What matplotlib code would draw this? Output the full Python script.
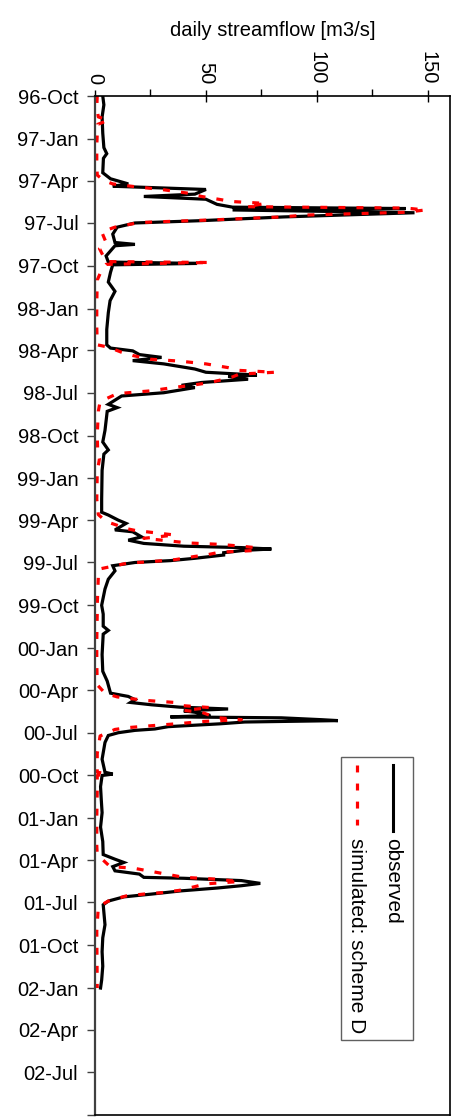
import matplotlib
matplotlib.use("Agg")
import matplotlib.pyplot as plt
import pandas as pd
from matplotlib.patches import Rectangle

plt.rcParams['font.family'] = ['Liberation Sans', 'DejaVu Sans']
plt.rcParams['lines.scale_dashes'] = False

# observed daily streamflow (m3/s)
obs_dates = [
    '1996-10-01', '1996-10-20', '1996-11-15', '1996-12-20', '1997-01-20', '1997-02-02', '1997-02-12',
    '1997-03-15', '1997-03-28', '1997-04-08', '1997-04-13', '1997-04-20', '1997-04-30', '1997-05-05',
    '1997-05-11', '1997-05-22', '1997-05-28', '1997-05-31', '1997-06-03', '1997-06-09', '1997-06-18',
    '1997-06-26', '1997-07-01', '1997-07-10', '1997-07-25', '1997-08-12', '1997-08-16', '1997-08-19',
    '1997-09-10', '1997-09-23', '1997-09-26', '1997-09-29', '1997-10-15', '1997-11-05',
    '1997-11-25', '1997-12-15', '1998-01-10', '1998-02-15', '1998-03-20', '1998-03-27', '1998-04-02',
    '1998-04-10', '1998-04-16', '1998-04-23', '1998-04-30', '1998-05-11', '1998-05-18', '1998-05-24',
    '1998-05-27', '1998-06-02', '1998-06-09', '1998-06-15', '1998-06-20', '1998-07-01', '1998-07-08',
    '1998-07-26', '1998-08-02', '1998-08-10', '1998-09-20',
    '1998-10-15', '1998-11-01', '1998-11-10', '1998-12-15', '1999-02-15', '1999-03-15', '1999-03-21',
    '1999-04-01', '1999-04-08', '1999-04-22', '1999-04-26', '1999-05-07', '1999-05-14', '1999-05-21',
    '1999-05-27', '1999-05-30', '1999-06-02', '1999-06-05', '1999-06-10', '1999-06-15', '1999-06-22',
    '1999-06-27', '1999-07-01', '1999-07-08', '1999-07-19', '1999-08-06', '1999-08-27', '1999-10-01',
    '1999-10-20', '1999-11-15', '1999-11-24', '1999-12-02', '2000-01-15', '2000-02-20', '2000-03-12',
    '2000-04-07', '2000-04-14', '2000-04-21', '2000-04-27', '2000-05-02', '2000-05-07', '2000-05-11',
    '2000-05-15', '2000-05-18', '2000-05-25', '2000-05-28', '2000-05-30', '2000-06-03', '2000-06-05',
    '2000-06-08', '2000-06-12', '2000-06-18', '2000-06-23', '2000-06-26', '2000-07-01', '2000-07-07',
    '2000-07-22', '2000-08-27', '2000-09-24', '2000-09-28', '2000-10-01', '2000-10-25',
    '2000-11-20', '2000-12-20', '2001-01-20', '2001-02-20', '2001-03-20', '2001-03-30', '2001-04-06',
    '2001-04-15', '2001-04-24', '2001-05-01', '2001-05-08', '2001-05-10', '2001-05-15', '2001-05-21',
    '2001-05-26', '2001-05-31', '2001-06-06', '2001-06-13', '2001-06-19', '2001-06-28', '2001-07-06',
    '2001-08-18', '2001-09-15', '2001-10-15', '2001-11-15', '2001-12-15', '2002-01-01',
]
obs_flow = [
    3.5, 4.0, 3.2, 3.5, 4.0, 5.3, 3.8,
    3.5, 7, 15, 8, 50, 45, 22,
    50, 55, 62, 140, 62, 144, 85,
    48, 18, 10, 8, 9, 18, 9,
    5, 6, 46, 8, 7, 6,
    9, 6.8, 6, 5.3, 5.3, 7, 17,
    20, 30, 17, 31, 45, 50, 73,
    60, 69, 48, 39, 45, 31, 12,
    6, 10, 5.5, 4.5,
    3.5, 6, 4, 3.2, 3, 3, 6,
    10.5, 14, 9, 17, 21, 15, 22,
    40, 66, 79.5, 67, 58, 58, 45,
    34, 18, 8, 9, 6, 4.5, 3,
    3.7, 3.7, 6, 3.7, 3.2, 3.5, 5.5,
    7, 15, 18, 16, 25.5, 38, 60,
    40, 45, 52, 34, 84, 102, 109.5,
    67.5, 56, 33, 27, 18, 10.5, 6,
    4.5, 3.2, 4.5, 8, 3.2, 2.5,
    2.8, 3.2, 2.5, 3.5, 3.7, 9, 13,
    8, 9, 20, 22, 40, 66, 74.5,
    66, 55, 39, 25.5, 13, 6, 3.7,
    4.5, 3.5, 3.2, 3.5, 3, 2.5,
]

# simulated streamflow, scheme D
sim_dates = [
    '1996-10-01', '1996-10-25', '1996-11-15', '1996-11-22', '1996-12-01', '1997-01-15', '1997-02-20',
    '1997-03-20', '1997-04-01', '1997-04-08', '1997-04-14', '1997-04-20', '1997-04-28', '1997-05-05',
    '1997-05-16', '1997-05-20', '1997-05-27', '1997-05-30', '1997-06-03', '1997-06-08', '1997-06-14',
    '1997-06-18', '1997-06-24', '1997-06-30', '1997-07-10', '1997-07-20', '1997-08-12', '1997-08-25',
    '1997-09-22', '1997-09-24', '1997-09-28', '1997-10-10', '1997-11-01',
    '1997-12-20', '1998-02-10', '1998-03-20', '1998-03-25', '1998-04-05', '1998-04-12', '1998-04-20',
    '1998-04-24', '1998-04-30', '1998-05-08', '1998-05-14', '1998-05-18', '1998-05-22', '1998-05-28',
    '1998-06-02', '1998-06-09', '1998-06-14', '1998-06-20', '1998-06-27', '1998-07-03', '1998-07-20',
    '1998-08-10', '1998-10-01',
    '1998-11-01', '1998-11-20', '1998-12-20', '1999-02-15', '1999-03-20', '1999-04-04', '1999-04-12',
    '1999-04-18', '1999-04-23', '1999-04-27', '1999-05-03', '1999-05-10', '1999-05-14', '1999-05-20',
    '1999-05-23', '1999-05-27', '1999-05-30', '1999-06-05', '1999-06-09', '1999-06-15', '1999-06-18',
    '1999-06-25', '1999-06-30', '1999-07-02', '1999-07-15', '1999-08-01', '1999-10-01',
    '1999-10-20', '1999-12-15', '2000-02-01', '2000-03-20', '2000-04-07', '2000-04-15', '2000-04-19',
    '2000-04-23', '2000-04-27', '2000-05-04', '2000-05-08', '2000-05-14', '2000-05-18', '2000-05-25',
    '2000-05-30', '2000-06-03', '2000-06-07', '2000-06-11', '2000-06-15', '2000-06-20', '2000-06-24',
    '2000-07-08', '2000-08-15', '2000-09-24', '2000-09-27', '2000-10-01',
    '2000-11-01', '2001-01-01', '2001-03-01', '2001-03-20', '2001-04-15', '2001-04-18', '2001-04-25',
    '2001-05-02', '2001-05-08', '2001-05-12', '2001-05-17', '2001-05-22', '2001-05-28', '2001-06-05',
    '2001-06-10', '2001-06-13', '2001-06-17', '2001-06-28', '2001-07-10', '2001-09-01', '2002-01-01',
]
sim_flow = [
    1, 0.8, 1.5, 6, 1.2, 0.8, 0.8,
    1, 4, 8, 18, 30, 42, 48,
    62, 77, 68, 140, 149, 140, 95,
    84, 55, 20, 9, 3, 5, 2,
    5, 52, 5, 3, 1,
    0.8, 0.8, 1, 6, 12, 17, 25,
    38, 50, 60, 65, 81, 65, 62,
    58, 52, 45, 35, 25, 10, 2.3,
    1.5, 1,
    1.2, 2, 1, 0.8, 1.5, 5, 10,
    13, 18, 25, 36, 22, 30, 42,
    56, 66, 72, 73, 56, 50, 45,
    36, 23, 15, 2, 1.5, 1,
    1, 0.8, 0.8, 1, 4.5, 10, 16.5,
    24, 36, 40, 52, 40, 48, 52,
    56, 66, 48, 39, 28, 15, 9,
    2.3, 1, 1, 5, 1,
    1, 0.8, 0.8, 1, 6.8, 17, 25,
    33, 40, 55, 65, 50, 45, 38,
    30, 22, 14, 6, 1.5, 0.8, 1,
]

tick_dates = [
    '1996-10-01', '1997-01-01', '1997-04-01', '1997-07-01', '1997-10-01', '1998-01-01', '1998-04-01',
    '1998-07-01', '1998-10-01', '1999-01-01', '1999-04-01', '1999-07-01', '1999-10-01', '2000-01-01',
    '2000-04-01', '2000-07-01', '2000-10-01', '2001-01-01', '2001-04-01', '2001-07-01', '2001-10-01',
    '2002-01-01', '2002-04-01', '2002-07-01', '2002-10-01',
]
tick_labels = [
    '96-Oct', '97-Jan', '97-Apr', '97-Jul', '97-Oct', '98-Jan', '98-Apr',
    '98-Jul', '98-Oct', '99-Jan', '99-Apr', '99-Jul', '99-Oct', '00-Jan',
    '00-Apr', '00-Jul', '00-Oct', '01-Jan', '01-Apr', '01-Jul', '01-Oct',
    '02-Jan', '02-Apr', '02-Jul', '',
]

obs_t = pd.to_datetime(obs_dates)
sim_t = pd.to_datetime(sim_dates)
ticks = pd.to_datetime(tick_dates)

W, H = 456, 1119
fig = plt.figure(figsize=(W / 100, H / 100), dpi=100)
ax = fig.add_axes([95 / W, 1 - 1115 / H, 355 / W, 1019 / H])

ax.plot(obs_flow, obs_t, color='black', lw=2.3, solid_joinstyle='miter')
ax.plot(sim_flow, sim_t, color='red', lw=2.3, linestyle=(0, (5, 8)))

ax.set_xlim(0, 160)
ax.set_ylim(ticks[-1], ticks[0])

ax.xaxis.tick_top()
ax.xaxis.set_label_position('top')
ax.set_xticks([0, 50, 100, 150])
ax.set_xticks([25, 75, 125], minor=True)
ax.tick_params(axis='x', which='major', direction='inout', length=9, width=1,
               labelsize=14.5, pad=4, labelrotation=-90)
ax.tick_params(axis='x', which='minor', direction='out', length=5, width=1)
ax.set_xlabel('daily streamflow [m3/s]', fontsize=14.5, labelpad=11)

ax.set_yticks(ticks)
ax.set_yticklabels(tick_labels)
ax.tick_params(axis='y', direction='out', length=6, width=1, labelsize=14.5, pad=6,
               color='#404040')

for s in ax.spines.values():
    s.set_linewidth(1.2)
ax.spines['left'].set_color('#404040')
ax.spines['left'].set_linewidth(1.6)

# legend drawn by hand: the whole chart is turned on its side
ax.add_patch(Rectangle((0.693, 0.074), 0.203, 0.277, transform=ax.transAxes,
                       facecolor='white', edgecolor='#606060', lw=1, zorder=5))
ax.plot([0.839, 0.839], [0.343, 0.279], transform=ax.transAxes, color='black', lw=2.2, zorder=6)
ax.plot([0.738, 0.738], [0.343, 0.285], transform=ax.transAxes, color='red', lw=2.3,
        linestyle=(0, (5, 8)), zorder=6)
ax.text(0.839, 0.272, 'observed', transform=ax.transAxes, rotation=-90,
        ha='center', va='top', fontsize=15, zorder=7)
ax.text(0.738, 0.272, 'simulated: scheme D', transform=ax.transAxes, rotation=-90,
        ha='center', va='top', fontsize=15, zorder=7)

fig.savefig('out.png', dpi=100)
